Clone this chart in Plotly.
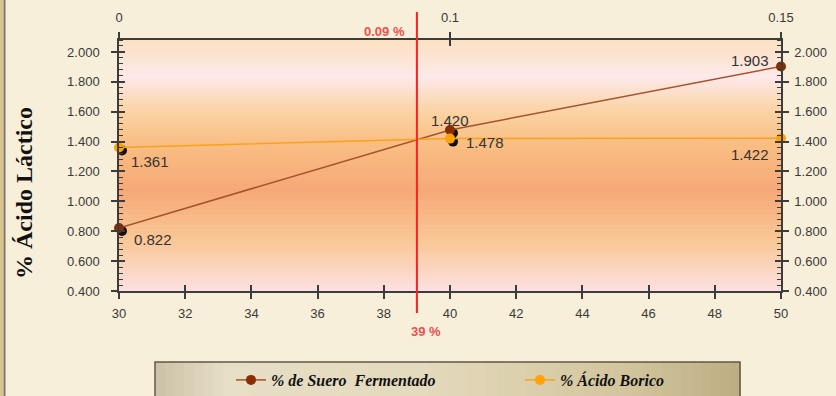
import plotly.graph_objects as go

# Lactic acid (%) against fermented whey (%) and boric acid (%)
suero_pct = [30, 40, 50]
suero_lactico = [0.822, 1.478, 1.903]

borico_levels = ["0", "0.1", "0.15"]
borico_lactico = [1.361, 1.420, 1.422]

x_ticks = [30, 32, 34, 36, 38, 40, 42, 44, 46, 48, 50]
y_ticks = [0.4, 0.6, 0.8, 1.0, 1.2, 1.4, 1.6, 1.8, 2.0]

cut_suero = 39
cut_suero_label = "39 %"
cut_borico_label = "0.09 %"

Y_RANGE = [0.4, 2.08]
X_RANGE = [30, 50]

SUERO_LINE = "#a4532c"
SUERO_MARK = "#8a2d05"
BORICO_LINE = "#f9a21e"
BORICO_MARK = "#ffa205"
TICK_FONT = dict(family="Liberation Sans, Arial, sans-serif", size=13, color="#3a3a3a")

# pixel offsets of the marker shadows, converted to axis units
PLOT_W, PLOT_H = 662, 251
sx = 3 * (X_RANGE[1] - X_RANGE[0]) / PLOT_W
sy = 3 * (Y_RANGE[1] - Y_RANGE[0]) / PLOT_H
bor_idx = list(range(len(borico_levels)))
bx = 3 * (len(borico_levels) - 1) / PLOT_W

fig = go.Figure()

# marker shadows
fig.add_trace(go.Scatter(x=[v + sx for v in suero_pct], y=[v - sy for v in suero_lactico],
                         mode="markers", marker=dict(color="#111", size=10), cliponaxis=False,
                         showlegend=False, hoverinfo="skip"))
fig.add_trace(go.Scatter(x=[i + bx for i in bor_idx], y=[v - sy for v in borico_lactico],
                         xaxis="x2", mode="markers", marker=dict(color="#111", size=10), cliponaxis=False,
                         showlegend=False, hoverinfo="skip"))

fig.add_trace(go.Scatter(x=suero_pct, y=suero_lactico, name="% de Suero  Fermentado",
                         mode="lines+markers", cliponaxis=False,
                         line=dict(color=SUERO_LINE, width=1.5),
                         marker=dict(color=SUERO_MARK, size=10)))
fig.add_trace(go.Scatter(x=bor_idx, y=borico_lactico, xaxis="x2", name="% Ácido Borico",
                         mode="lines+markers", cliponaxis=False,
                         line=dict(color=BORICO_LINE, width=1.5),
                         marker=dict(color=BORICO_MARK, size=10)))


def hexrgb(h):
    h = h.lstrip("#")
    return tuple(int(h[i:i + 2], 16) for i in (0, 2, 4))


def blend(stops, t):
    for (t0, c0), (t1, c1) in zip(stops, stops[1:]):
        if t0 <= t <= t1:
            f = (t - t0) / (t1 - t0) if t1 > t0 else 0
            a, b = hexrgb(c0), hexrgb(c1)
            return "rgb(%d,%d,%d)" % tuple(round(a[k] + (b[k] - a[k]) * f) for k in range(3))
    return stops[-1][1]


shapes = []

# plot-area vertical gradient (fractions measured from the top)
plot_stops = [(0.0, "#fbe0c0"), (0.15, "#fde9ea"), (0.28, "#fbd4a6"), (0.42, "#f9bd82"),
              (0.6, "#f6a877"), (0.8, "#f9c795"), (1.0, "#fce0e0")]
N = 90
for i in range(N):
    t = (i + 0.5) / N
    shapes.append(dict(type="rect", xref="paper", yref="paper", x0=0, x1=1,
                       y0=1 - (i + 1) / N, y1=1 - i / N + 0.002,
                       fillcolor=blend(plot_stops, t), line_width=0, layer="below"))

# legend box with a horizontal gradient
lx0, lx1 = (155 - 119) / PLOT_W, (740 - 119) / PLOT_W
ly1, ly0 = (291 - 362) / PLOT_H, (291 - 402) / PLOT_H
leg_stops = [(0.0, "#cac1a6"), (0.12, "#e6dec6"), (0.45, "#e4dabd"), (0.8, "#d3c59d"), (1.0, "#bcad83")]
M = 60
for i in range(M):
    t = (i + 0.5) / M
    shapes.append(dict(type="rect", xref="paper", yref="paper",
                       x0=lx0 + (lx1 - lx0) * i / M, x1=lx0 + (lx1 - lx0) * (i + 1) / M + 0.001,
                       y0=ly0, y1=ly1, fillcolor=blend(leg_stops, t), line_width=0, layer="below"))
shapes.append(dict(type="rect", xref="paper", yref="paper", x0=lx0, x1=lx1, y0=ly0, y1=ly1,
                   line=dict(color="#5f574a", width=1.5), fillcolor="rgba(0,0,0,0)", layer="below"))

# page edge on the left
shapes.append(dict(type="rect", xref="paper", yref="paper", x0=(0 - 119) / PLOT_W, x1=(3 - 119) / PLOT_W,
                   y0=-0.5, y1=1.2, fillcolor="#dcc38c", line_width=0, layer="below"))
shapes.append(dict(type="line", xref="paper", yref="paper", x0=(4.5 - 119) / PLOT_W, x1=(4.5 - 119) / PLOT_W,
                   y0=-0.5, y1=1.2, line=dict(color="#7d766a", width=2), layer="below"))

# cut-off line
shapes.append(dict(type="line", xref="x", yref="paper", x0=cut_suero, x1=cut_suero,
                   y0=(291 - 313) / PLOT_H, y1=(291 - 12) / PLOT_H,
                   line=dict(color="#ff1f1f", width=2)))

annotations = []
lab_font = dict(family="Liberation Sans, Arial, sans-serif", size=15, color="#333")
suero_off = [(34, -12), (35, -13), (-31, 6)]
for x, y, (dx, dy) in zip(suero_pct, suero_lactico, suero_off):
    annotations.append(dict(x=x, y=y, xref="x", yref="y", text=f"{y:.3f}", showarrow=False,
                            xshift=dx, yshift=dy, font=lab_font))
borico_off = [(31, -14), (0, 18), (-31, -16)]
for x, y, (dx, dy) in zip(bor_idx, borico_lactico, borico_off):
    annotations.append(dict(x=x, y=y, xref="x2", yref="y", text=f"{y:.3f}", showarrow=False,
                            xshift=dx, yshift=dy, font=lab_font))

cut_font = dict(family="Liberation Sans, Arial, sans-serif", size=13, color="#ee5050", weight="bold")
annotations.append(dict(x=cut_suero, y=(291 - 31) / PLOT_H, xref="x", yref="paper", text=cut_borico_label,
                        showarrow=False, xanchor="right", yanchor="middle", xshift=-10, font=cut_font))
annotations.append(dict(x=cut_suero, y=(291 - 331) / PLOT_H, xref="x", yref="paper", text=cut_suero_label,
                        showarrow=False, xanchor="center", yanchor="middle", xshift=9, font=cut_font))

annotations.append(dict(x=(24 - 119) / PLOT_W, y=(291 - 193) / PLOT_H, xref="paper", yref="paper",
                        text="<b>% Ácido Láctico</b>", textangle=-90, showarrow=False,
                        xanchor="center", yanchor="middle",
                        font=dict(family="Liberation Serif, Times New Roman, serif", size=24, color="#111")))

axis_common = dict(showgrid=False, zeroline=False, showline=True, linecolor="#3c3c3c", linewidth=1.5,
                   tickcolor="#3c3c3c", tickwidth=1.5, tickfont=TICK_FONT)
minor_y = dict(ticks="inside", dtick=0.04, ticklen=4, tickcolor="#3c3c3c", tickwidth=1)

fig.update_layout(
    width=836, height=396,
    margin=dict(l=119, r=55, t=40, b=105, autoexpand=False),
    paper_bgcolor="#f7efd9",
    plot_bgcolor="rgba(0,0,0,0)",
    shapes=shapes,
    annotations=annotations,
    xaxis=dict(range=X_RANGE, tickvals=x_ticks, ticks="outside", ticklen=6,
               ticklabelstandoff=4, **axis_common),
    xaxis2=dict(range=[0, len(borico_levels) - 1], overlaying="x", side="top",
                tickvals=bor_idx, ticktext=borico_levels, ticks="outside", ticklen=6,
                ticklabelstandoff=5, **axis_common),
    xaxis3=dict(range=X_RANGE, overlaying="x", side="bottom", tickvals=x_ticks, ticks="inside",
                ticklen=6, showticklabels=False, **axis_common),
    xaxis4=dict(range=[0, len(borico_levels) - 1], overlaying="x", side="top", tickvals=bor_idx,
                ticks="inside", ticklen=6, showticklabels=False, **axis_common),
    yaxis=dict(range=Y_RANGE, tickvals=y_ticks, tickformat=".3f", ticks="outside", ticklen=6,
               minor=minor_y, ticklabelstandoff=9, **axis_common),
    yaxis2=dict(range=Y_RANGE, overlaying="y", side="right", tickvals=y_ticks, tickformat=".3f",
                ticks="outside", ticklen=6, minor=minor_y, ticklabelstandoff=3, **axis_common),
    yaxis3=dict(range=Y_RANGE, overlaying="y", side="left", tickvals=y_ticks, ticks="inside",
                ticklen=6, showticklabels=False, **axis_common),
    yaxis4=dict(range=Y_RANGE, overlaying="y", side="right", tickvals=y_ticks, ticks="inside",
                ticklen=6, showticklabels=False, **axis_common),
    legend=dict(orientation="h", x=(231 - 119) / PLOT_W, xanchor="left",
                y=(291 - 380) / PLOT_H, yanchor="middle",
                bgcolor="rgba(0,0,0,0)", entrywidth=244, itemwidth=30,
                font=dict(family="Liberation Serif, Times New Roman, serif", size=16,
                          color="#111", style="italic", weight="bold")),
    showlegend=True,
)

# empty traces so the overlay axes are drawn
fig.add_trace(go.Scatter(x=[None], y=[None], xaxis="x3", yaxis="y3", showlegend=False, hoverinfo="skip"))
fig.add_trace(go.Scatter(x=[None], y=[None], xaxis="x4", yaxis="y4", showlegend=False, hoverinfo="skip"))
fig.add_trace(go.Scatter(x=[None], y=[None], xaxis="x", yaxis="y2", showlegend=False, hoverinfo="skip"))

fig.write_html("out.html")
